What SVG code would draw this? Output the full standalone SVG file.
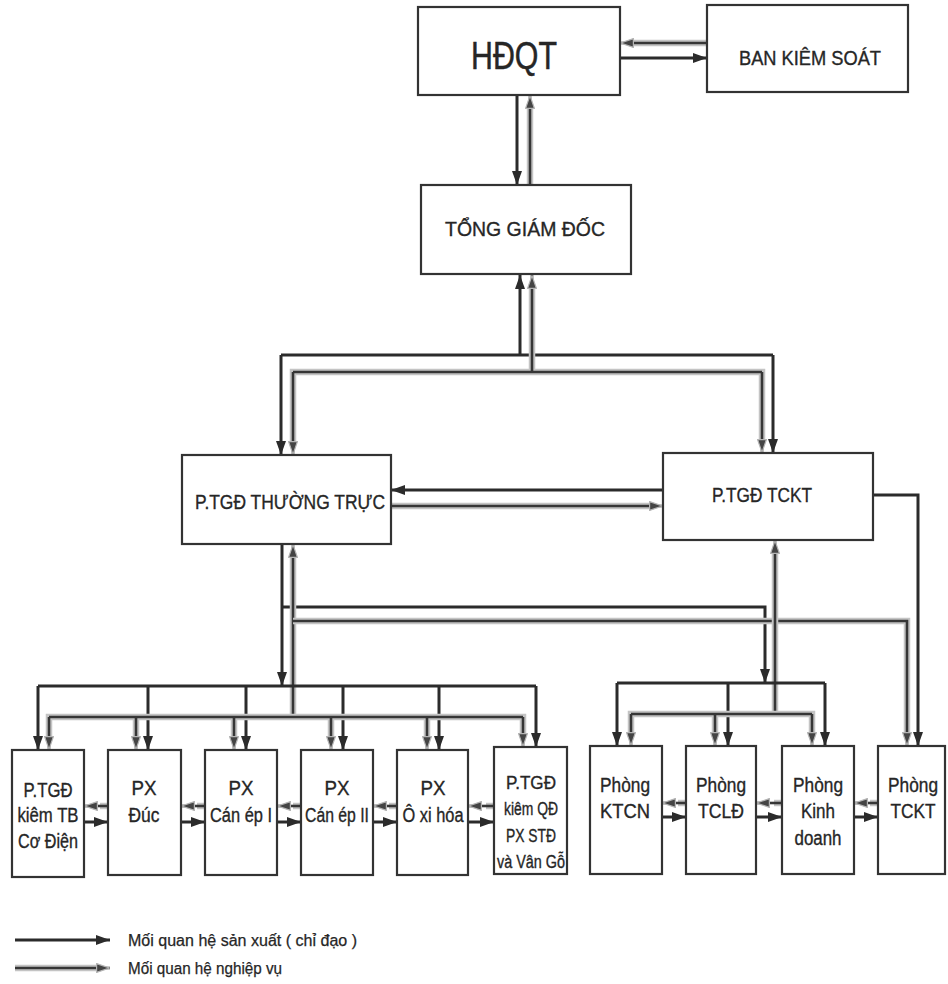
<svg xmlns="http://www.w3.org/2000/svg" width="948" height="984" viewBox="0 0 948 984">
<style>
.box{fill:#fff;stroke:#333;stroke-width:2.2}
.t{font-family:"Liberation Sans",Arial,sans-serif;fill:#262626;stroke:#262626;stroke-width:0.35;text-anchor:middle;font-size:20px}
.lt{font-family:"Liberation Sans",Arial,sans-serif;fill:#262626;stroke:#262626;stroke-width:0.25;font-size:16px}
.sx{stroke:#2b2b2b;stroke-width:3;fill:none}
.nvb{stroke:#c4c4c4;stroke-width:6.5;fill:none}
.nv{stroke:#363636;stroke-width:2.6;fill:none}
</style>
<defs>
<marker id="a" viewBox="0 0 14 10" refX="14" refY="5" markerWidth="14" markerHeight="10" markerUnits="userSpaceOnUse" orient="auto">
<path d="M0,0 L14,5 L0,10 z" fill="#2b2b2b"/>
</marker>
<marker id="b" viewBox="0 0 14 10" refX="14" refY="5" markerWidth="14" markerHeight="10" markerUnits="userSpaceOnUse" orient="auto">
<path d="M0.6,0.6 L13.4,5 L0.6,9.4 z" fill="#444" stroke="#b5b5b5" stroke-width="1.2"/>
</marker>
</defs>
<rect width="948" height="984" fill="#fff"/>
<g id="connectors">
<path class="nvb" d="M707,43 H634"/><path class="nv" d="M707,43 H620" marker-end="url(#b)"/>
<path class="sx" d="M620,58 H707" marker-end="url(#a)"/>
<path class="sx" d="M517,95 V185" marker-end="url(#a)"/>
<path class="nvb" d="M530,185 V109"/><path class="nv" d="M530,185 V95" marker-end="url(#b)"/>
<path class="sx" d="M520,355 V275" marker-end="url(#a)"/>
<path class="sx" d="M281,355 H773"/>
<path class="sx" d="M281,355 V455" marker-end="url(#a)"/>
<path class="sx" d="M773,355 V453" marker-end="url(#a)"/>
<path class="nvb" d="M293,441 V372 H762 V439 M532,372 V289"/>
<path class="nv" d="M532,372 V275" marker-end="url(#b)"/>
<path class="nv" d="M293,372 H762"/>
<path class="nv" d="M293,372 V455" marker-end="url(#b)"/>
<path class="nv" d="M762,372 V453" marker-end="url(#b)"/>
<path class="sx" d="M663,490 H391" marker-end="url(#a)"/>
<path class="nvb" d="M391,506 H649"/><path class="nv" d="M391,506 H663" marker-end="url(#b)"/>
<path class="sx" d="M873,495 H918 V746" marker-end="url(#a)"/>
<path class="sx" d="M282,544 V686" marker-end="url(#a)"/>
<path class="sx" d="M282,607 H765 V683" marker-end="url(#a)"/>
<path class="nvb" d="M293,717 V558"/>
<path class="nv" d="M293,717 V544" marker-end="url(#b)"/>
<path class="nvb" d="M293,621 H907 V732"/>
<path class="nv" d="M293,621 H907 V746" marker-end="url(#b)"/>
<path class="nvb" d="M775,714 V554"/>
<path class="nv" d="M775,714 V540" marker-end="url(#b)"/>
<path class="sx" d="M38,686 H536"/>
<path class="sx" d="M38,686 V750" marker-end="url(#a)"/>
<path class="sx" d="M148,686 V750" marker-end="url(#a)"/>
<path class="sx" d="M246,686 V750" marker-end="url(#a)"/>
<path class="sx" d="M343,686 V750" marker-end="url(#a)"/>
<path class="sx" d="M439,686 V750" marker-end="url(#a)"/>
<path class="sx" d="M536,686 V747" marker-end="url(#a)"/>
<path class="nvb" d="M49,736 V717 H523 V733 M136,717 V736 M234,717 V736 M331,717 V736 M427,717 V736"/>
<path class="nv" d="M49,717 H523"/>
<path class="nv" d="M49,717 V750" marker-end="url(#b)"/>
<path class="nv" d="M136,717 V750" marker-end="url(#b)"/>
<path class="nv" d="M234,717 V750" marker-end="url(#b)"/>
<path class="nv" d="M331,717 V750" marker-end="url(#b)"/>
<path class="nv" d="M427,717 V750" marker-end="url(#b)"/>
<path class="nv" d="M523,717 V747" marker-end="url(#b)"/>
<path class="sx" d="M617,683 H825"/>
<path class="sx" d="M617,683 V746" marker-end="url(#a)"/>
<path class="sx" d="M728,683 V746" marker-end="url(#a)"/>
<path class="sx" d="M825,683 V746" marker-end="url(#a)"/>
<path class="nvb" d="M631,732 V714 H812 V732 M715,714 V732"/>
<path class="nv" d="M631,714 H812"/>
<path class="nv" d="M631,714 V746" marker-end="url(#b)"/>
<path class="nv" d="M715,714 V746" marker-end="url(#b)"/>
<path class="nv" d="M812,714 V746" marker-end="url(#b)"/>
<path class="nvb" d="M108,806 H100"/><path class="nv" d="M108,806 H84" marker-end="url(#b)"/>
<path class="sx" d="M84,822 H108" marker-end="url(#a)"/>
<path class="nvb" d="M205,806 H197"/><path class="nv" d="M205,806 H181" marker-end="url(#b)"/>
<path class="sx" d="M181,822 H205" marker-end="url(#a)"/>
<path class="nvb" d="M301,806 H293"/><path class="nv" d="M301,806 H277" marker-end="url(#b)"/>
<path class="sx" d="M277,822 H301" marker-end="url(#a)"/>
<path class="nvb" d="M397,806 H389"/><path class="nv" d="M397,806 H373" marker-end="url(#b)"/>
<path class="sx" d="M373,822 H397" marker-end="url(#a)"/>
<path class="nvb" d="M494,806 H486"/><path class="nv" d="M494,806 H468" marker-end="url(#b)"/>
<path class="sx" d="M468,822 H494" marker-end="url(#a)"/>
<path class="nvb" d="M686,803 H678"/><path class="nv" d="M686,803 H662" marker-end="url(#b)"/>
<path class="sx" d="M662,817 H686" marker-end="url(#a)"/>
<path class="nvb" d="M782,803 H774"/><path class="nv" d="M782,803 H756" marker-end="url(#b)"/>
<path class="sx" d="M756,817 H782" marker-end="url(#a)"/>
<path class="nvb" d="M878,803 H870"/><path class="nv" d="M878,803 H854" marker-end="url(#b)"/>
<path class="sx" d="M854,817 H878" marker-end="url(#a)"/>
</g>
<g id="hdqt"><rect class="box" x="418" y="7" width="202" height="88"/><text class="t" x="514" y="69" style="font-size:38px;stroke-width:0.5" textLength="86" lengthAdjust="spacingAndGlyphs">HĐQT</text></g>
<g id="bks"><rect class="box" x="707" y="5" width="201" height="87"/><text class="t" x="810" y="65" textLength="142" lengthAdjust="spacingAndGlyphs">BAN KIÊM SOÁT</text></g>
<g id="tgd"><rect class="box" x="421" y="185" width="210" height="89"/><text class="t" x="525" y="236" textLength="160" lengthAdjust="spacingAndGlyphs">TỔNG GIÁM  ĐỐC</text></g>
<g id="ptgd-tt"><rect class="box" x="182" y="455" width="209" height="89"/><text class="t" x="290" y="509" textLength="190" lengthAdjust="spacingAndGlyphs">P.TGĐ THƯỜNG TRỰC</text></g>
<g id="ptgd-tckt"><rect class="box" x="663" y="453" width="210" height="87"/><text class="t" x="762" y="502" style="font-size:21px" textLength="100" lengthAdjust="spacingAndGlyphs">P.TGĐ TCKT</text></g>
<g id="ptgd-tb"><rect class="box" x="12" y="750" width="72" height="127"/><text class="t"><tspan x="48" y="797" textLength="49" lengthAdjust="spacingAndGlyphs">P.TGĐ</tspan><tspan x="48" y="822" textLength="61" lengthAdjust="spacingAndGlyphs">kiêm TB</tspan><tspan x="48" y="848" textLength="60" lengthAdjust="spacingAndGlyphs">Cơ Điện</tspan></text></g>
<g id="px-duc"><rect class="box" x="108" y="750" width="73" height="125"/><text class="t"><tspan x="144" y="795" textLength="25" lengthAdjust="spacingAndGlyphs">PX</tspan><tspan x="144" y="822" textLength="31" lengthAdjust="spacingAndGlyphs">Đúc</tspan></text></g>
<g id="px-canep1"><rect class="box" x="205" y="750" width="72" height="125"/><text class="t"><tspan x="241" y="795" textLength="25" lengthAdjust="spacingAndGlyphs">PX</tspan><tspan x="241" y="822" textLength="62" lengthAdjust="spacingAndGlyphs">Cán ép I</tspan></text></g>
<g id="px-canep2"><rect class="box" x="301" y="750" width="72" height="125"/><text class="t"><tspan x="337" y="795" textLength="25" lengthAdjust="spacingAndGlyphs">PX</tspan><tspan x="337" y="822" textLength="64" lengthAdjust="spacingAndGlyphs">Cán ép II</tspan></text></g>
<g id="px-oxihoa"><rect class="box" x="397" y="750" width="71" height="125"/><text class="t"><tspan x="433" y="795" textLength="25" lengthAdjust="spacingAndGlyphs">PX</tspan><tspan x="433" y="822" textLength="61" lengthAdjust="spacingAndGlyphs">Ô xi hóa</tspan></text></g>
<g id="ptgd-qd"><rect class="box" x="494" y="747" width="73" height="127"/><text class="t" style="font-size:18px"><tspan x="531" y="789" textLength="50" lengthAdjust="spacingAndGlyphs">P.TGĐ</tspan><tspan x="531" y="815" textLength="54" lengthAdjust="spacingAndGlyphs">kiêm QĐ</tspan><tspan x="531" y="842" textLength="50" lengthAdjust="spacingAndGlyphs">PX STĐ</tspan><tspan x="531" y="868" textLength="68" lengthAdjust="spacingAndGlyphs">và Vân Gỗ</tspan></text></g>
<g id="p-ktcn"><rect class="box" x="590" y="746" width="72" height="128"/><text class="t"><tspan x="625" y="792" textLength="50" lengthAdjust="spacingAndGlyphs">Phòng</tspan><tspan x="625" y="818" textLength="50" lengthAdjust="spacingAndGlyphs">KTCN</tspan></text></g>
<g id="p-tcld"><rect class="box" x="686" y="746" width="70" height="128"/><text class="t"><tspan x="721" y="792" textLength="50" lengthAdjust="spacingAndGlyphs">Phòng</tspan><tspan x="721" y="818" textLength="46" lengthAdjust="spacingAndGlyphs">TCLĐ</tspan></text></g>
<g id="p-kd"><rect class="box" x="782" y="746" width="72" height="128"/><text class="t"><tspan x="818" y="792" textLength="50" lengthAdjust="spacingAndGlyphs">Phòng</tspan><tspan x="818" y="818" textLength="34" lengthAdjust="spacingAndGlyphs">Kinh</tspan><tspan x="818" y="845" textLength="47" lengthAdjust="spacingAndGlyphs">doanh</tspan></text></g>
<g id="p-tckt"><rect class="box" x="878" y="746" width="67" height="128"/><text class="t"><tspan x="913" y="792" textLength="50" lengthAdjust="spacingAndGlyphs">Phòng</tspan><tspan x="913" y="818" textLength="45" lengthAdjust="spacingAndGlyphs">TCKT</tspan></text></g>
<g id="legend">
<path class="sx" d="M15,940 H110" marker-end="url(#a)"/>
<path class="nvb" d="M15,968 H96"/><path class="nv" d="M15,968 H110" marker-end="url(#b)"/>
<text class="lt" x="128" y="946" textLength="229" lengthAdjust="spacingAndGlyphs">Mối quan hệ sản xuất ( chỉ đạo )</text>
<text class="lt" x="128" y="974" textLength="154" lengthAdjust="spacingAndGlyphs">Mối quan hệ nghiệp vụ</text>
</g>
</svg>
